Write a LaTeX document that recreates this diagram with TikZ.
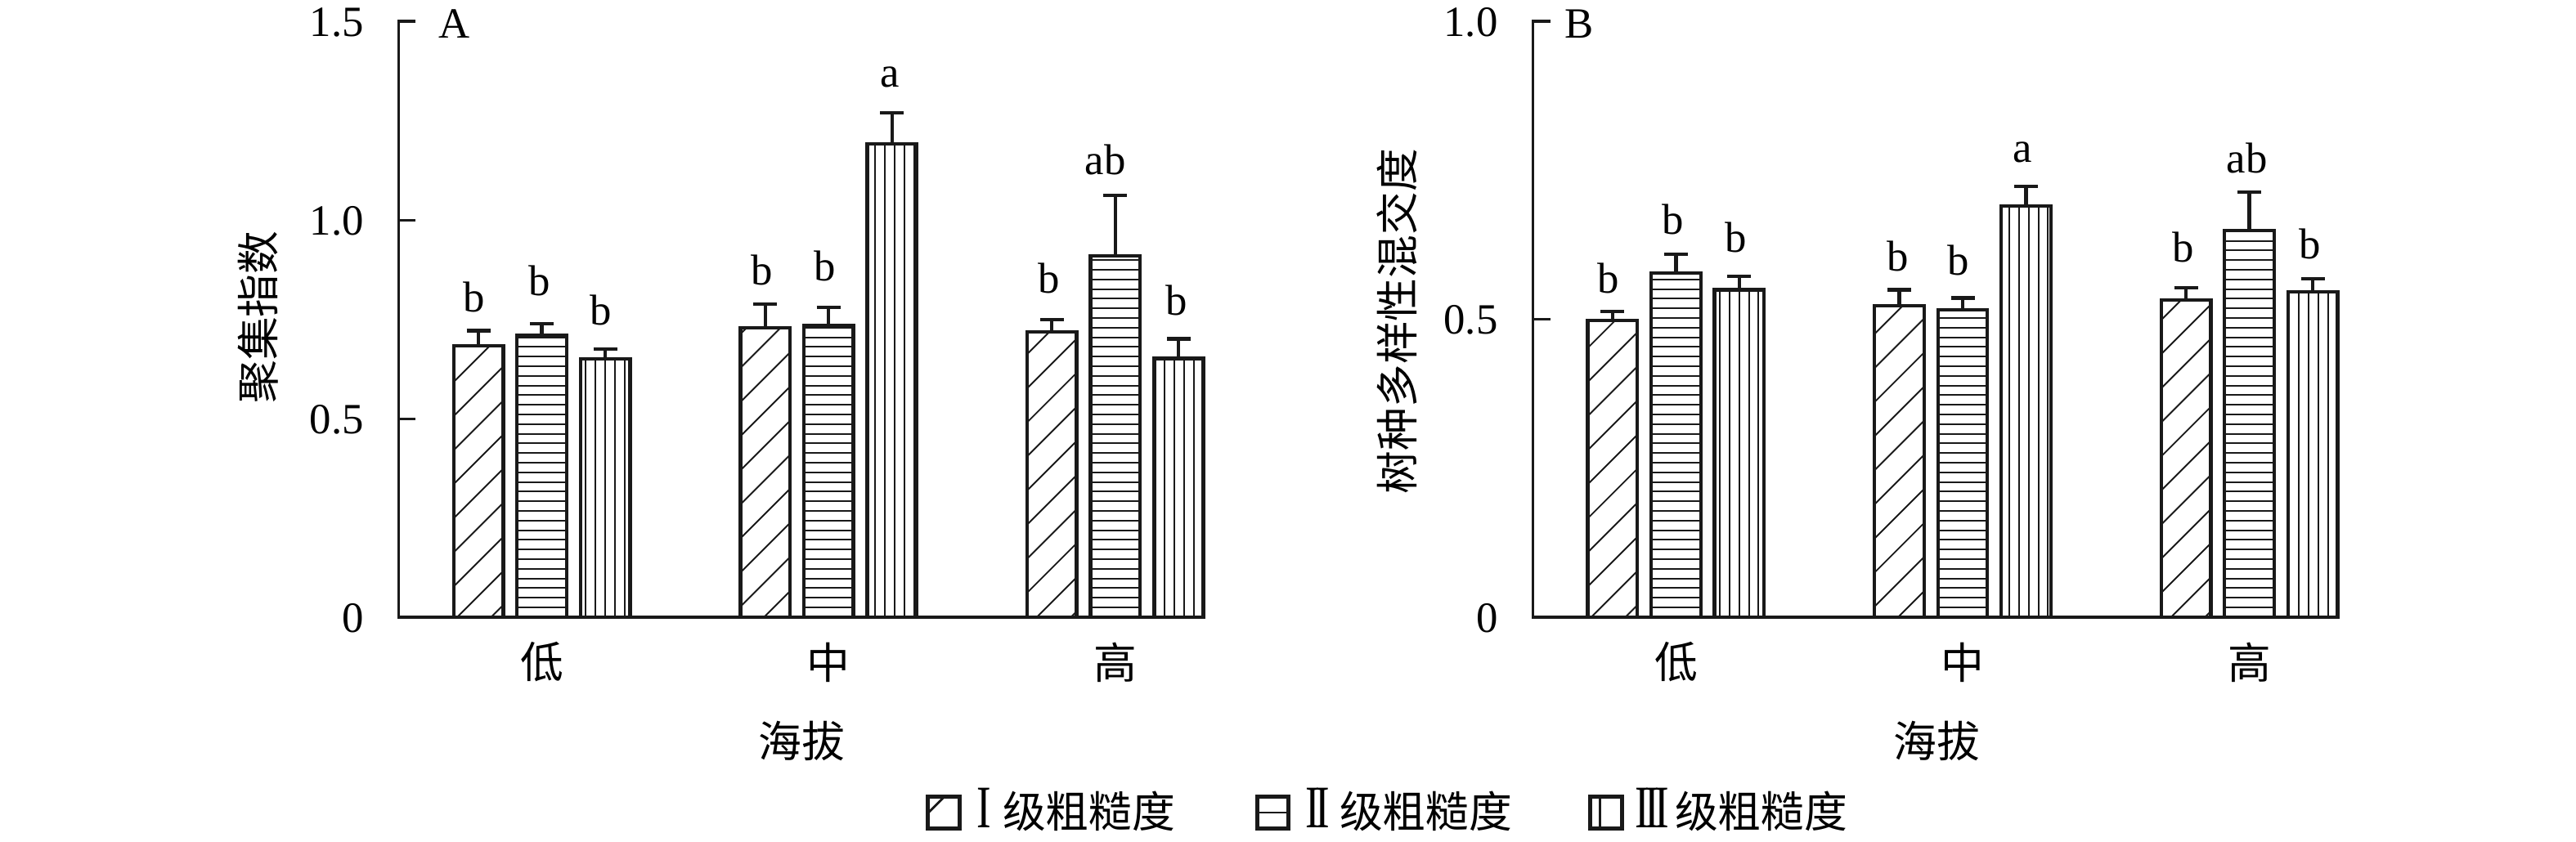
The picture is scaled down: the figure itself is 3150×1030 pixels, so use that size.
\documentclass[tikz,border=0pt]{standalone}
\usepackage{fontspec}
\usepackage{graphicx}
\setmainfont{Liberation Serif}
\newfontfamily\cjk{Noto Sans CJK SC}
\newcommand{\romI}{\scalebox{1}[1.4]{I}}
\newcommand{\romII}{\scalebox{1}[1.4]{I\kern-0.1em I}}
\newcommand{\romIII}{\scalebox{1}[1.4]{I\kern-0.1em I\kern-0.1em I}}
\tikzset{
  every node/.style={inner sep=0pt, outer sep=0pt, font=\fontsize{15pt}{18pt}\selectfont},
  hatch/.style={line width=0.55pt, black!90},
  barline/.style={line width=1.22pt, black!90, line join=miter},
  errline/.style={line width=1.22pt, black!90},
  yaxisline/.style={line width=0.94pt, black!90, line join=miter},
  xaxisline/.style={line width=1.34pt, black!90},
  tickline/.style={line width=0.85pt, black!90},
  lbl/.style={anchor=base},
  ticklbl/.style={anchor=east},
  legbox/.style={line width=1.42pt, black!90},
  legline/.style={line width=0.8pt, black!90},
}
% #1 pattern (1 diag,2 horiz,3 vert), #2 centre x, #3 top y, #4 error y,
% #5 label baseline y, #6 label text, #7 panel axis x, #8 node name, #9 label dx
\newcommand{\onebar}[9]{%
  \begin{scope}
    \clip (#2-30.3,755) rectangle (#2+30.3,#3);
    \ifcase#1\or
      \pgfmathtruncatemacro\kmin{floor((#2-30.3+#3-#7-33.9)/41.7)-1}%
      \pgfmathtruncatemacro\kmax{ceil((#2+30.3+755-#7-33.9)/41.7)+1}%
      \foreach \k in {\kmin,...,\kmax}{%
        \pgfmathsetmacro\cc{#7+33.9+41.7*\k}%
        \draw[hatch] ({#2-40},{\cc-#2+40}) -- ({#2+40},{\cc-#2-40});
      }%
    \or
      \foreach \k in {0,...,60}{%
        \draw[hatch] ({#2-35},{743-11.8*\k}) -- ({#2+35},{743-11.8*\k});
      }%
    \or
      \pgfmathtruncatemacro\kmin{floor((#2-30.3-#7-4.5)/11.8)}%
      \pgfmathtruncatemacro\kmax{ceil((#2+30.3-#7-4.5)/11.8)}%
      \foreach \k in {\kmin,...,\kmax}{%
        \draw[hatch] ({#7+4.5+11.8*\k},760) -- ({#7+4.5+11.8*\k},{#3-5});
      }%
    \fi
  \end{scope}
  \draw[errline] (#2,#3) -- (#2,#4);
  \draw[barline] (#2-30.3,755) rectangle (#2+30.3,#3);
  \draw[errline] (#2-14.5,#4) -- (#2+14.5,#4);
  \node[lbl] (#8) at (#2+#9,#5) {#6};
}
\begin{document}
\begin{tikzpicture}[x=0.01cm,y=-0.01cm]
\useasboundingbox (0,0) rectangle (3150,1030);
\fill[white] (0,0) rectangle (3150,1030);

% ================= Panel A =================
\onebar{1}{585.1}{422.7}{404.5}{381.7}{b}{487.7}{a11}{-5}
\onebar{2}{662.6}{409.7}{395.7}{361.7}{b}{487.7}{a12}{-3}
\onebar{3}{740.1}{439.3}{427.3}{397.3}{b}{487.7}{a13}{-5}
\onebar{1}{935.7}{401}{371.7}{348.3}{b}{487.7}{a21}{-4}
\onebar{2}{1013.2}{398.3}{376.3}{343.3}{b}{487.7}{a22}{-5}
\onebar{3}{1090.7}{176}{137.7}{106.7}{a}{487.7}{a23}{-3}
\onebar{1}{1286.3}{406}{390.7}{358.3}{b}{487.7}{a31}{-4}
\onebar{2}{1363.8}{313.3}{239.3}{213.3}{ab}{487.7}{a32}{-12}
\onebar{3}{1441.3}{438.6}{414.6}{385}{b}{487.7}{a33}{-3}

\draw[yaxisline] (508,26) -- (487.7,26) -- (487.7,755);
\draw[tickline] (487.7,269) -- (508,269);
\draw[tickline] (487.7,512) -- (508,512);
\draw[xaxisline] (486.2,755) -- (1473.5,755);

\node[ticklbl] (ta15) at (444.7,27) {1.5};
\node[ticklbl] (ta10) at (444.7,270) {1.0};
\node[ticklbl] (ta05) at (444.7,513) {0.5};
\node[ticklbl] (ta00) at (444.7,756) {0};
\node[anchor=base west] (pA) at (536.7,46.7) {A};

\node (ca1) at (662.6,810) {\cjk 低};
\node (ca2) at (1013.2,810) {\cjk 中};
\node (ca3) at (1363.8,810) {\cjk 高};
\node (xa) at (980,906) {\cjk 海拔};
\node[rotate=90] (ya) at (316,388) {\cjk 聚集指数};

% ================= Panel B =================
\onebar{1}{1971.9}{392.2}{381.2}{358.3}{b}{1874.5}{b11}{-5}
\onebar{2}{2049.4}{334}{310.8}{286}{b}{1874.5}{b12}{-4}
\onebar{3}{2126.9}{354.5}{337.8}{308.3}{b}{1874.5}{b13}{-4}
\onebar{1}{2322.5}{373.8}{354.5}{331.7}{b}{1874.5}{b21}{-2}
\onebar{2}{2400}{378.8}{364.5}{336}{b}{1874.5}{b22}{-5}
\onebar{3}{2477.5}{252}{228}{198.3}{a}{1874.5}{b23}{-4}
\onebar{1}{2673.1}{367}{352}{320}{b}{1874.5}{b31}{-3}
\onebar{2}{2750.6}{282}{234.8}{211.7}{ab}{1874.5}{b32}{-3}
\onebar{3}{2828.1}{357}{341.2}{316}{b}{1874.5}{b33}{-3}

\draw[yaxisline] (1895.5,26) -- (1874.5,26) -- (1874.5,755);
\draw[tickline] (1874.5,390.5) -- (1895.5,390.5);
\draw[xaxisline] (1873,755) -- (2861,755);

\node[ticklbl] (tb10) at (1831.5,27) {1.0};
\node[ticklbl] (tb05) at (1831.5,391.5) {0.5};
\node[ticklbl] (tb00) at (1831.5,756) {0};
\node[anchor=base west] (pB) at (1913,46.7) {B};

\node (cb1) at (2049.4,810) {\cjk 低};
\node (cb2) at (2400,810) {\cjk 中};
\node (cb3) at (2750.6,810) {\cjk 高};
\node (xb) at (2368,906) {\cjk 海拔};
\node[rotate=90] (yb) at (1708,393) {\cjk 树种多样性混交度};

% ================= Legend =================
\draw[legline] (1134.8,994.5) -- (1154.3,975);
\draw[legbox] (1134.8,974) rectangle (1173.5,1013.5);
\node[anchor=base west] (r1) at (1194,1012) {\romI};
\node[anchor=base west] (l1) at (1226,1012) {\cjk 级粗糙度};

\draw[legline] (1537.5,994) -- (1575,994);
\draw[legbox] (1537.5,974) rectangle (1575,1013.5);
\node[anchor=base west] (r2) at (1596,1012) {\romII};
\node[anchor=base west] (l2) at (1638,1012) {\cjk 级粗糙度};

\draw[legline] (1956.7,974) -- (1956.7,1013.5);
\draw[legbox] (1944.2,974) rectangle (1983.5,1013.5);
\node[anchor=base west] (r3) at (1999,1012) {\romIII};
\node[anchor=base west] (l3) at (2048,1012) {\cjk 级粗糙度};
\end{tikzpicture}
\end{document}
